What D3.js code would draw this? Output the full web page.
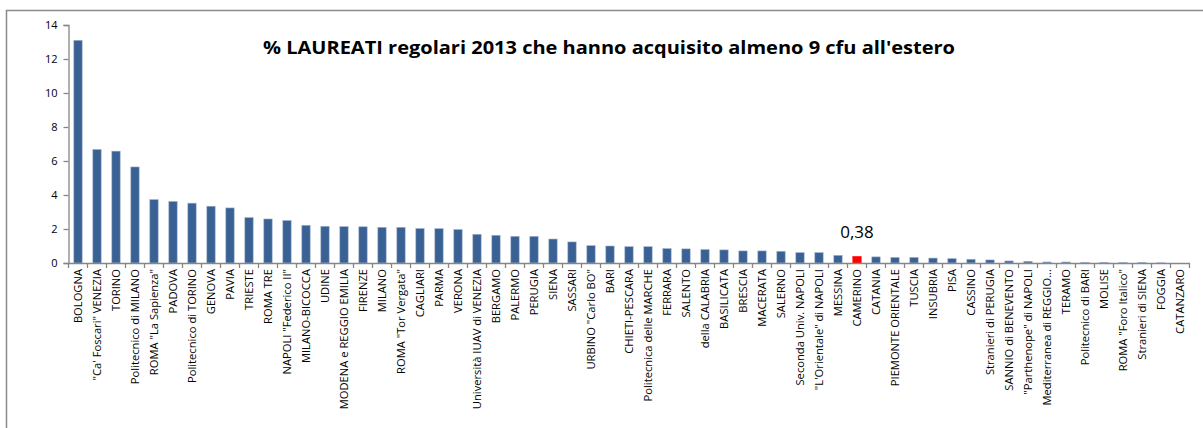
<!DOCTYPE html>
<html>
<head>
<meta charset="utf-8">
<script src="https://cdn.jsdelivr.net/npm/d3@7"></script>
<style>
  body { margin: 0; background: #fff; }
  svg text { font-family: "Open Sans", "Noto Sans", sans-serif; fill: #000; }
</style>
</head>
<body>
<div id="chart"></div>
<script>
// universities, sorted as in the original
var atenei = [
    "BOLOGNA", "\"Ca' Foscari\" VENEZIA", "TORINO", "Politecnico di MILANO", "ROMA \"La Sapienza\"",
    "PADOVA", "Politecnico di TORINO", "GENOVA", "PAVIA", "TRIESTE",
    "ROMA TRE", "NAPOLI \"Federico II\"", "MILANO-BICOCCA", "UDINE", "MODENA e REGGIO EMILIA",
    "FIRENZE", "MILANO", "ROMA \"Tor Vergata\"", "CAGLIARI", "PARMA",
    "VERONA", "Università IUAV di VENEZIA", "BERGAMO", "PALERMO", "PERUGIA",
    "SIENA", "SASSARI", "URBINO \"Carlo BO\"", "BARI", "CHIETI-PESCARA",
    "Politecnica delle MARCHE", "FERRARA", "SALENTO", "della CALABRIA", "BASILICATA",
    "BRESCIA", "MACERATA", "SALERNO", "Seconda Univ. NAPOLI", "\"L'Orientale\" di NAPOLI",
    "MESSINA", "CAMERINO", "CATANIA", "PIEMONTE ORIENTALE", "TUSCIA",
    "INSUBRIA", "PISA", "CASSINO", "Stranieri di PERUGIA", "SANNIO di BENEVENTO",
    "\"Parthenope\" di NAPOLI", "Mediterranea di REGGIO...", "TERAMO", "Politecnico di BARI", "MOLISE",
    "ROMA \"Foro Italico\"", "Stranieri di SIENA", "FOGGIA", "CATANZARO"
];

// % laureati regolari with >= 9 cfu abroad
var percentuali = [
    13.1, 6.68, 6.58, 5.65, 3.73,
    3.62, 3.52, 3.34, 3.24, 2.67,
    2.59, 2.50, 2.22, 2.16, 2.14,
    2.13, 2.10, 2.10, 2.03, 2.02,
    1.97, 1.69, 1.63, 1.57, 1.57,
    1.41, 1.24, 1.02, 1.00, 0.96,
    0.96, 0.85, 0.83, 0.79, 0.77,
    0.71, 0.71, 0.69, 0.61, 0.61,
    0.45, 0.38, 0.36, 0.33, 0.33,
    0.29, 0.26, 0.22, 0.18, 0.12,
    0.10, 0.06, 0.06, 0.04, 0.04,
    0.02, 0.02, 0.01, 0.0
];

var yTicks = [0, 2, 4, 6, 8, 10, 12, 14];
var evidenziato = "CAMERINO";
var titolo = "% LAUREATI regolari 2013 che hanno acquisito almeno 9 cfu all'estero";

let data = atenei.map((a, i) => { return {nome: a, valore: percentuali[i]}; });

let margin = {top: 25, right: 13.5, bottom: 165, left: 68.5};
let width = 1203 - margin.left - margin.right;
let height = 428 - margin.top - margin.bottom;

let svg = d3.select('#chart')
    .append('svg')
    .attr('width', 1203)
    .attr('height', 428);

// chart frame (only top and left are visible in the crop)
svg.append('rect')
    .attr('x', 6.5)
    .attr('y', 10.5)
    .attr('width', 1220)
    .attr('height', 440)
    .attr('fill', 'none')
    .attr('stroke', '#8a8a8a')
    .attr('stroke-width', 1.5);

let g = svg.append('g')
    .attr('transform', 'translate(' + margin.left + ',' + margin.top + ')');

let x = d3.scaleBand()
    .domain(atenei)
    .range([0, width])
    .paddingInner(0.56)
    .paddingOuter(0.28);

let y = d3.scaleLinear()
    .domain([0, 14])
    .range([height, 0]);

// bars
g.selectAll('rect.bar')
    .data(data)
    .enter().append('rect')
        .attr('class', 'bar')
        .attr('x', (d) => { return x(d.nome); })
        .attr('y', (d) => { return y(d.valore); })
        .attr('width', x.bandwidth())
        .attr('height', (d) => { return y(0) - y(d.valore); })
        .attr('fill', (d) => { return d.nome === evidenziato ? '#ff0000' : '#3a6194'; })
        .attr('stroke', (d) => { return d.nome === evidenziato ? '#ff0000' : '#9fb4d0'; })
        .attr('stroke-width', 0.6);

// y axis
let yAxis = d3.axisLeft(y)
    .tickValues(yTicks)
    .tickSize(5)
    .tickPadding(6)
    .tickFormat(d3.format('d'));

let ya = g.append('g')
    .attr('class', 'axis y')
    .call(yAxis);
ya.select('.domain').attr('stroke', '#868686').attr('stroke-width', 1.3);
ya.selectAll('.tick line').attr('stroke', '#868686').attr('stroke-width', 1.3);
ya.selectAll('.tick text').style('font-size', '11px');

// x axis: labels centred on bars, ticks on category boundaries
let xAxis = d3.axisBottom(x)
    .tickSize(0)
    .tickPadding(0);

let xa = g.append('g')
    .attr('class', 'axis x')
    .attr('transform', 'translate(0,' + height + ')')
    .call(xAxis);
xa.select('.domain').attr('stroke', '#868686').attr('stroke-width', 1.3);
xa.selectAll('.tick text')
    .attr('x', -6)
    .attr('y', 0)
    .attr('dy', '.35em')
    .attr('transform', 'rotate(-90)')
    .style('text-anchor', 'end')
    .style('font-size', '11.2px');

let confini = d3.range(atenei.length + 1).map((i) => { return i * x.step(); });
xa.selectAll('line.cat')
    .data(confini)
    .enter().append('line')
        .attr('class', 'cat')
        .attr('x1', (d) => { return d; })
        .attr('x2', (d) => { return d; })
        .attr('y1', 0)
        .attr('y2', 5)
        .attr('stroke', '#868686')
        .attr('stroke-width', 1.3);

// title
svg.append('text')
    .attr('x', 609)
    .attr('y', 54)
    .attr('text-anchor', 'middle')
    .attr('textLength', 692)
    .attr('lengthAdjust', 'spacingAndGlyphs')
    .style('font-size', '18px')
    .style('font-weight', 'bold')
    .text(titolo);

// value label for highlighted bar
let hl = data.find((d) => { return d.nome === evidenziato; });
g.append('text')
    .attr('x', x(hl.nome) + x.bandwidth() / 2)
    .attr('y', y(hl.valore) - 19)
    .attr('text-anchor', 'middle')
    .style('font-size', '17px')
    .text(String(hl.valore).replace('.', ','));
</script>
</body>
</html>
